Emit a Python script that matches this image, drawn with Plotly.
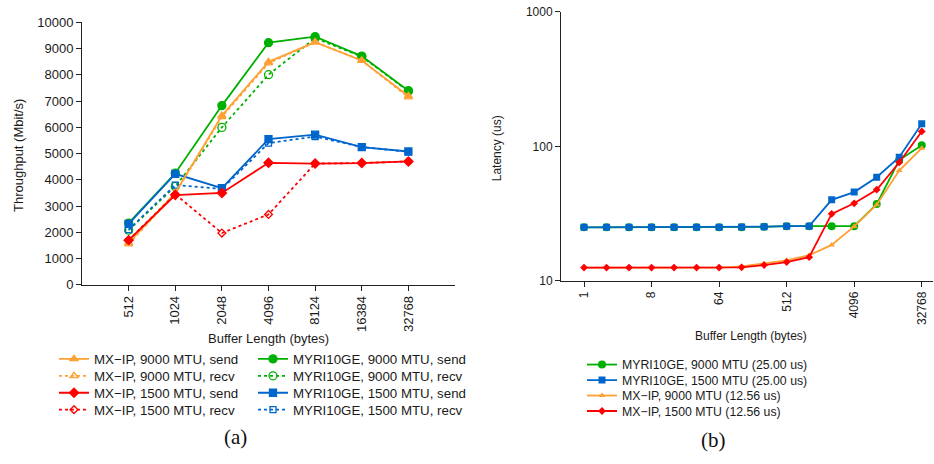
import plotly.graph_objects as go

W, H = 934, 464

# ---------------- data: left chart (throughput) ----------------
tp_sizes = ["512", "1024", "2048", "4096", "8124", "16384", "32768"]
mx9000_send = [1600, 3500, 6450, 8500, 9250, 8550, 7200]
mx9000_recv = [1550, 3480, 6400, 8450, 9250, 8550, 7150]
mx1500_send = [1700, 3420, 3500, 4650, 4620, 4640, 4700]
mx1500_recv = [1700, 3450, 1970, 2680, 4620, 4640, 4700]
myri9000_send = [2350, 4250, 6830, 9230, 9460, 8720, 7400]
myri9000_recv = [2080, 3750, 6000, 8010, 9400, 8700, 7380]
myri1500_send = [2320, 4230, 3680, 5550, 5720, 5250, 5080]
myri1500_recv = [2100, 3800, 3650, 5400, 5650, 5250, 5070]
tp_yticks = [0, 1000, 2000, 3000, 4000, 5000, 6000, 7000, 8000, 9000, 10000]

# ---------------- data: right chart (latency) ----------------
lat_sizes = [1, 2, 4, 8, 16, 32, 64, 128, 256, 512, 1024, 2048, 4096, 8192, 16384, 32768]
lat_myri9000 = [25, 25, 25, 25, 25, 25, 25, 25, 25.2, 25.5, 25.5, 25.5, 25.5, 37.2, 79, 102]
lat_myri1500 = [25, 25, 25, 25, 25, 25, 25, 25.1, 25.3, 25.5, 25.5, 40, 45.7, 58.9, 83, 147]
lat_mx9000 = [12.56, 12.56, 12.56, 12.56, 12.56, 12.56, 12.56, 12.8, 13.4, 14.2, 15.5, 18.5, 25.4, 36.8, 66, 97]
lat_mx1500 = [12.56, 12.56, 12.56, 12.56, 12.56, 12.56, 12.56, 12.6, 13.1, 13.8, 15.0, 31.5, 37.7, 47.6, 75.9, 129]
lat_xticks = [1, 8, 64, 512, 4096, 32768]
lat_yticks = [10, 100, 1000]

ORANGE = "#FFA033"
RED = "#FF0000"
GREEN = "#00B000"
BLUE = "#0066CC"
FONT = "Liberation Sans, Arial, sans-serif"
TXT = "#1a1a1a"

fig = go.Figure()

def px_x(x):
    return x / W

def px_y(y):
    return 1 - y / H

# left chart traces: (name, values, colour, dash, symbol, size, legend x px, legend row y px)
left_specs = [
    ("MX\u2212IP, 9000 MTU, send", mx9000_send, ORANGE, "solid", "triangle-up", 7, 54, 364),
    ("MX\u2212IP, 9000 MTU, recv", mx9000_recv, ORANGE, "dot", "triangle-up-open", 7, 54, 381.5),
    ("MX\u2212IP, 1500 MTU, send", mx1500_send, RED, "solid", "diamond", 7, 54, 399),
    ("MX\u2212IP, 1500 MTU, recv", mx1500_recv, RED, "dot", "diamond-open", 6, 54, 416.5),
    ("MYRI10GE, 9000 MTU, send", myri9000_send, GREEN, "solid", "circle", 8, 253, 364),
    ("MYRI10GE, 9000 MTU, recv", myri9000_recv, GREEN, "dot", "circle-open", 8, 253, 381.5),
    ("MYRI10GE, 1500 MTU, send", myri1500_send, BLUE, "solid", "square", 7, 253, 399),
    ("MYRI10GE, 1500 MTU, recv", myri1500_recv, BLUE, "dot", "square-open", 6, 253, 416.5),
]
right_specs = [
    ("MYRI10GE, 9000 MTU (25.00 us)", lat_myri9000, GREEN, "circle", 8, 582, 369.5),
    ("MYRI10GE, 1500 MTU (25.00 us)", lat_myri1500, BLUE, "square", 7, 582, 385.5),
    ("MX\u2212IP, 9000 MTU (12.56 us)", lat_mx9000, ORANGE, "triangle-up", 6, 582, 401.5),
    ("MX\u2212IP, 1500 MTU (12.56 us)", lat_mx1500, RED, "diamond", 6, 582, 417.5),
]

legend_layout = {}
draw_order = [4, 5, 6, 7, 0, 1, 2, 3]
for i in draw_order:
    name, ys, col, dash, sym, sz, lx, ly = left_specs[i]
    key = "legend" if i == 0 else f"legend{i + 1}"
    fig.add_trace(go.Scatter(
        x=tp_sizes, y=ys, name=name, mode="lines+markers",
        line=dict(color=col, width=1.8, dash=dash),
        marker=dict(color=col, symbol=sym, size=sz, line=dict(color=col, width=1.3)),
        xaxis="x", yaxis="y", legend=key,
    ))
    legend_layout[key] = dict(x=px_x(lx), y=px_y(ly), xanchor="left", yanchor="middle",
                              bgcolor="rgba(0,0,0,0)", font=dict(size=13.3))

for j, (name, ys, col, sym, sz, lx, ly) in enumerate(right_specs):
    key = f"legend{9 + j}"
    fig.add_trace(go.Scatter(
        x=lat_sizes, y=ys, name=name, mode="lines+markers",
        line=dict(color=col, width=1.8),
        marker=dict(color=col, symbol=sym, size=sz),
        xaxis="x2", yaxis="y2", legend=key,
    ))
    legend_layout[key] = dict(x=px_x(lx), y=px_y(ly), xanchor="left", yanchor="middle",
                              bgcolor="rgba(0,0,0,0)", font=dict(size=12.3))

axis_common = dict(
    showline=True, linecolor="#222", linewidth=1, showgrid=False, zeroline=False,
    ticks="outside", ticklen=5, tickcolor="#222", mirror=False,
)

fig.update_layout(
    width=W, height=H,
    margin=dict(l=0, r=0, t=0, b=0),
    paper_bgcolor="white", plot_bgcolor="white",
    font=dict(family=FONT, color=TXT, size=13),
    xaxis=dict(
        domain=[px_x(82), px_x(455)], type="category", range=[-1, 7],
        tickangle=-90, tickfont=dict(size=13), anchor="y", **axis_common,
    ),
    yaxis=dict(
        domain=[px_y(287), px_y(16)], range=[0, 10000],
        tickvals=tp_yticks, ticktext=[str(v) for v in tp_yticks],
        tickfont=dict(size=13), anchor="x", **axis_common,
    ),
    xaxis2=dict(
        domain=[px_x(561), px_x(933)], type="log", range=[-0.3075, 4.666],
        tickvals=lat_xticks, ticktext=[str(v) for v in lat_xticks],
        tickangle=-90, tickfont=dict(size=12), anchor="y2", **axis_common,
    ),
    yaxis2=dict(
        domain=[px_y(283), px_y(5)], type="log", range=[1, 3],
        tickvals=lat_yticks, ticktext=[str(v) for v in lat_yticks],
        tickfont=dict(size=12), anchor="x2", **axis_common,
    ),
    showlegend=True,
    **legend_layout,
)

annots = [
    dict(text="Throughput (Mbit/s)", x=px_x(18), y=px_y(154), textangle=-90, font=dict(size=13)),
    dict(text="Buffer Length (bytes)", x=px_x(268), y=px_y(343), font=dict(size=13)),
    dict(text="Latency (us)", x=px_x(497), y=px_y(146), textangle=-90, font=dict(size=12)),
    dict(text="Buffer Length (bytes)", x=px_x(751), y=px_y(340), font=dict(size=12)),
    dict(text="(a)", x=px_x(235), y=px_y(444), font=dict(size=21, family="Liberation Serif, DejaVu Serif, serif", color="#111")),
    dict(text="(b)", x=px_x(713), y=px_y(447), font=dict(size=21, family="Liberation Serif, DejaVu Serif, serif", color="#111")),
]
for a in annots:
    a.update(xref="paper", yref="paper", showarrow=False, xanchor="center", yanchor="middle")
    fig.add_annotation(**a)

fig.write_html("out.html")
